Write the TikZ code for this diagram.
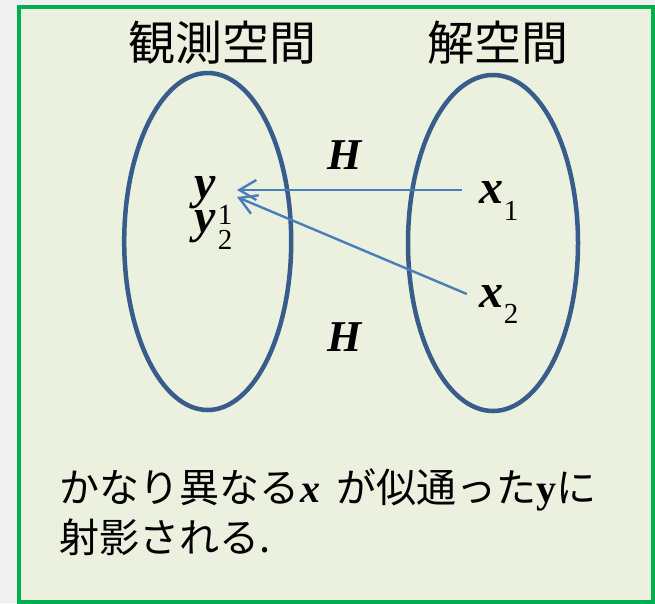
\documentclass[tikz,border=0pt]{standalone}
\usepackage{fontspec}
\setmainfont{Noto Sans CJK JP}
\newfontfamily\jp{Noto Sans CJK JP}
\newfontfamily\tser{Liberation Serif}
\usetikzlibrary{arrows.meta}
\definecolor{pagegray}{HTML}{F0F0F0}
\definecolor{panelfill}{HTML}{EBF0DF}
\definecolor{framegreen}{HTML}{00B050}
\definecolor{ellblue}{HTML}{385D8A}
\definecolor{arrblue}{HTML}{4A7EBB}
\tikzset{
  frame/.style={draw=framegreen, line width=4pt, fill=panelfill},
  ell/.style={draw=ellblue, line width=4.5pt},
  arr/.style={draw=arrblue, line width=2.4pt, -{Straight Barb[length=17pt,width=20pt]}},
  title/.style={inner sep=0pt, font=\jp\fontsize{47}{52}\selectfont},
  mathbi/.style={inner sep=0pt, font=\tser\bfseries\itshape\fontsize{48}{52}\selectfont},
  mathH/.style={inner sep=0pt, font=\tser\bfseries\itshape\fontsize{44}{48}\selectfont},
  idx/.style={inner sep=0pt, font=\tser\fontsize{29}{32}\selectfont},
  body/.style={inner sep=0pt, anchor=base west, font=\jp\fontsize{40}{47}\selectfont}
}
\begin{document}
\begin{tikzpicture}[x=1pt,y=-1pt]
\useasboundingbox (0,0) rectangle (655,603);
\fill[pagegray] (0,0) rectangle (655,603);
\draw[frame] (19,7) rectangle (652.5,601.5);
% ellipses
\draw[ell] (207.7,241.5) ellipse [x radius=83.5, y radius=168.5];
\draw[ell] (493,243) ellipse [x radius=85, y radius=168];
% titles
\node[title] (tobs) at (222,43) {観測空間};
\node[title] (tsol) at (498,43) {解空間};
% H labels
\node[mathH] (h1) at (345,155) {H};
\node[mathH] (h2) at (345,337) {H};
% x labels
\node[mathbi] (x1) at (491,192) {x};
\node[idx] (x1i) at (511,211) {1};
\node[mathbi] (x2) at (491,296) {x};
\node[idx] (x2i) at (511,314) {2};
% y labels
\node[mathbi] (y1) at (205,193) {y};
\node[idx] (y1i) at (225,214.5) {1};
\node[mathbi] (y2) at (205,226.5) {y};
\node[idx] (y2i) at (225,239.5) {2};
% arrows
\coordinate (yt1) at (237,190);
\coordinate (yt2) at (237,197);
\draw[arr] ([shift={(-17,-2)}]x1.west) -- (yt1);
\draw[arr] ([shift={(-12,-2)}]x2.west) -- (yt2);
% body text
\node[body] (line1) at (59,502) {かなり異なる\hspace{1pt}{\tser\bfseries\itshape x}\hspace{16pt}が似通った{\tser\bfseries y}に};
\node[body] (line2) at (59,552) {射影される.};
\end{tikzpicture}
\end{document}
